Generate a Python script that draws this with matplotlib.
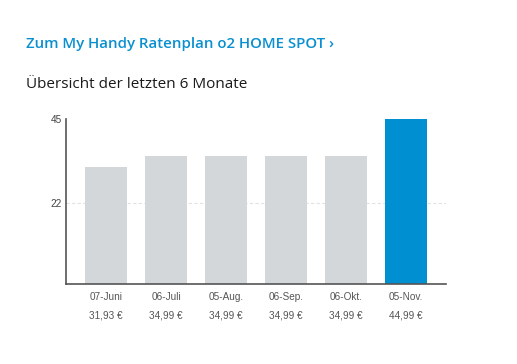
import numpy as np
import matplotlib.pyplot as plt

# data
months = ['07-Juni', '06-Juli', '05-Aug.', '06-Sep.', '06-Okt.', '05-Nov.']
amounts = [31.93, 34.99, 34.99, 34.99, 34.99, 44.99]
amount_labels = ['31,93 €', '34,99 €', '34,99 €', '34,99 €', '34,99 €', '44,99 €']
yticks = [22, 45]

W, H = 517, 364
fig = plt.figure(figsize=(W / 100, H / 100), dpi=100)

fig.text(26 / W, 1 - 44 / H, 'Zum My Handy Ratenplan o2 HOME SPOT ›', color='#0a90d0',
         fontsize=10.8, family='Open Sans', fontweight='semibold', va='center', ha='left')
fig.text(26 / W, 1 - 84 / H, 'Übersicht der letzten 6 Monate', color='#1a1a1a',
         fontsize=11, family='Open Sans', va='center', ha='left')

# axes box in pixels
left, right, top, bottom = 66, 446, 119, 284
ax = fig.add_axes([left / W, 1 - bottom / H, (right - left) / W, (bottom - top) / H])

x = np.arange(len(months))
colors = ['#d3d7da'] * (len(months) - 1) + ['#0090d2']
ax.bar(x, amounts, width=0.7, color=colors, zorder=2)

ax.set_xlim(-0.667, len(months) - 0.333)
ax.set_ylim(0, 45)
ax.set_yticks(yticks)
ax.set_yticklabels([str(t) for t in yticks], fontsize=7.2, color='#444444', family='Liberation Sans')
ax.tick_params(axis='y', length=0, pad=3)
ax.tick_params(axis='x', length=0)
ax.set_xticks([])
ax.axhline(22, color='#e2e2e2', lw=0.8, ls=(0, (3, 2)), zorder=1)

for s in ['top', 'right']:
    ax.spines[s].set_visible(False)
for s in ['left', 'bottom']:
    ax.spines[s].set_color('#555555')
    ax.spines[s].set_linewidth(1.2)

for i, (m, a) in enumerate(zip(months, amount_labels)):
    ax.annotate(m, (i, 0), xytext=(0, -9.6), textcoords='offset points', ha='center', va='center',
                fontsize=7.2, color='#555555', family='Liberation Sans', annotation_clip=False)
    ax.annotate(a, (i, 0), xytext=(0, -22.5), textcoords='offset points', ha='center', va='center',
                fontsize=7.2, color='#555555', family='Liberation Sans', annotation_clip=False)

fig.savefig('out.png', dpi=100)
